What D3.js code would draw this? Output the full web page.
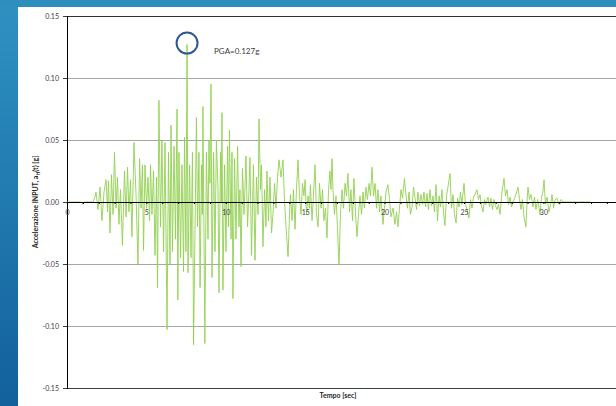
<!DOCTYPE html>
<html><head><meta charset="utf-8">
<script src="https://cdn.jsdelivr.net/npm/d3@7"></script>
<style>
html,body{margin:0;padding:0;background:#fff;}
svg{display:block;}
text{font-family:Lato,"Open Sans","Liberation Sans",sans-serif;}
</style></head>
<body>
<svg id="c" width="616" height="406"></svg>
<script>
// ---- data (time in s, acceleration in g) ----
const times = [0,0.9,1.0,1.1,1.5,1.64,1.76,1.83,1.95,2.08,2.20,2.33,2.46,2.55,2.61,2.71,2.80,2.90,2.99,3.09,3.18,3.27,3.37,3.49,3.62,3.72,3.81,3.90,4.00,4.09,4.22,4.35,4.47,4.57,4.66,4.75,4.82,4.91,5.01,5.10,5.20,5.26,5.35,5.45,5.54,5.64,5.70,5.79,5.89,5.98,6.08,6.17,6.30,6.39,6.49,6.55,6.64,6.74,6.83,6.93,6.98,7.05,7.15,7.24,7.34,7.40,7.49,7.56,7.62,7.72,7.81,7.90,7.97,8.15,8.22,8.31,8.38,8.47,8.52,8.56,8.68,8.78,8.88,8.94,9.00,9.07,9.13,9.23,9.32,9.41,9.51,9.57,9.67,9.72,9.76,9.82,9.92,10.01,10.11,10.17,10.23,10.33,10.39,10.45,10.55,10.64,10.74,10.83,10.89,10.96,11.05,11.15,11.27,11.37,11.46,11.52,11.62,11.74,11.84,11.93,12.03,12.09,12.19,12.25,12.34,12.44,12.53,12.59,12.69,12.78,12.88,12.97,13.07,13.16,13.26,13.35,13.48,13.60,13.70,13.79,13.92,14.01,14.07,14.17,14.26,14.36,14.45,14.55,14.64,14.74,14.83,14.92,14.99,15.08,15.18,15.27,15.33,15.43,15.52,15.62,15.71,15.81,15.90,16.00,16.09,16.18,16.28,16.37,16.47,16.56,16.62,16.69,16.75,16.84,16.94,17.03,17.13,17.22,17.32,17.41,17.51,17.60,17.69,17.79,17.88,17.98,18.07,18.17,18.26,18.36,18.45,18.55,18.64,18.73,18.83,18.92,19.02,19.11,19.21,19.30,19.40,19.49,19.58,19.68,19.77,19.90,19.99,20.09,20.21,20.31,20.40,20.53,20.65,20.75,20.84,20.94,21.03,21.13,21.25,21.35,21.44,21.54,21.63,21.73,21.82,21.91,22.01,22.10,22.20,22.29,22.39,22.48,22.58,22.67,22.76,22.86,22.95,23.05,23.14,23.24,23.33,23.43,23.52,23.61,23.71,23.80,23.90,23.99,24.12,24.21,24.31,24.40,24.50,24.59,24.69,24.78,24.87,25.00,25.09,25.19,25.31,25.41,25.50,25.60,25.69,25.82,25.91,26.01,26.10,26.20,26.29,26.38,26.51,26.61,26.70,26.79,26.89,26.98,27.08,27.17,27.27,27.39,27.52,27.61,27.71,27.80,27.90,27.99,28.09,28.18,28.27,28.40,28.50,28.59,28.68,28.78,28.90,28.97,29.03,29.12,29.22,29.34,29.44,29.53,29.63,29.72,29.79,29.88,29.97,30.04,30.13,30.23,30.35,30.45,30.54,30.64,30.73,30.86,30.98,31.11,31.23,32.93];
const accel = [0,0,-0.002,0,0,0,0.004,0.008,-0.006,0.012,-0.015,0.008,0.018,-0.008,0.017,-0.025,0.022,-0.010,0.040,-0.005,0.020,-0.018,0.010,-0.035,0.025,-0.012,0.028,-0.008,0.018,-0.028,0.048,0.005,-0.050,0.035,-0.005,0.030,-0.039,0.030,-0.005,0.020,-0.015,0.030,-0.010,0.025,-0.043,0.020,-0.069,0.082,-0.020,0.050,-0.040,0.048,-0.103,0.040,-0.050,0.062,-0.040,0.045,-0.030,0.075,-0.079,0.040,-0.045,0.030,-0.056,0.052,-0.040,0.127,-0.057,0.030,-0.045,0.040,-0.115,0.068,-0.020,0.040,-0.069,0.030,-0.010,0.077,-0.114,0.040,-0.030,0.050,0.015,0.095,-0.061,0.040,-0.040,0.050,0.010,-0.073,0.040,0.000,0.072,-0.071,0.030,-0.040,0.045,-0.020,0.058,-0.030,0.040,-0.078,0.035,-0.030,0.045,-0.020,0.010,-0.052,0.027,-0.010,0.037,-0.020,0.010,0.036,-0.043,0.030,-0.047,0.020,-0.010,0.067,0.010,0.030,-0.036,0.010,-0.020,0.025,-0.015,0.020,-0.025,-0.010,0.015,-0.005,0.020,0.034,0.020,0.034,0.000,-0.020,-0.044,-0.010,0.006,-0.015,0.010,-0.022,0.010,0.034,0.005,-0.010,0.015,0.005,0.018,-0.010,0.005,-0.005,0.014,-0.015,0.005,0.030,-0.010,-0.020,0.015,-0.005,0.010,-0.015,-0.005,-0.029,0.010,0.025,0.010,0.035,0.010,-0.010,0.005,-0.020,-0.051,-0.010,0.010,-0.005,0.015,0.005,0.023,-0.008,0.010,-0.015,0.019,-0.010,-0.028,-0.010,0.005,-0.010,0.008,-0.005,0.012,0.002,0.015,0.005,0.028,0.005,0.015,-0.005,0.010,-0.008,0.005,-0.018,-0.005,0.008,0.014,0.002,-0.012,-0.005,-0.018,-0.008,-0.020,-0.005,0.010,0.003,0.019,0.005,-0.005,0.008,-0.010,-0.004,0.012,0.004,-0.006,0.008,-0.003,0.006,-0.002,0.008,-0.004,0.007,-0.006,0.010,-0.003,0.005,-0.008,0.014,-0.015,0.005,-0.004,0.010,-0.008,-0.019,0.005,0.012,0.023,-0.005,0.006,-0.010,-0.017,0.003,-0.004,0.008,-0.002,0.015,-0.002,-0.006,-0.013,0.002,-0.005,0.004,0.006,0.010,0.002,0.006,-0.003,-0.008,0.002,-0.002,0.004,-0.004,0.003,-0.006,0.002,-0.003,-0.006,-0.002,-0.010,0.008,0.019,0.005,0.010,-0.002,0.004,-0.004,0.000,0.003,0.006,0.012,0.002,-0.006,0.002,-0.012,-0.020,0.000,0.012,0.002,0.006,-0.004,0.004,-0.006,0.002,-0.004,-0.010,0.004,0.008,0.018,-0.002,0.004,-0.008,-0.002,0.006,-0.005,0.002,0.003,-0.002,0.002,0.000,0.000];
const yTicks = [-0.15,-0.10,-0.05,0.00,0.05,0.10,0.15];
const yTickLabels = ["-0.15","-0.10","-0.05","0.00","0.05","0.10","0.15"];
const xLabelTicks = [0,5,10,15,20,25,30];
const pgaTime = 7.56, pgaValue = 0.127;
const pgaLabel = "PGA=0.127g";

// ---- drawing ----
const svg = d3.select("#c");
const defs = svg.append("defs");
const lg = defs.append("linearGradient").attr("id","bg").attr("x1",0).attr("y1",0).attr("x2",0).attr("y2",1);
lg.append("stop").attr("offset","0%").attr("stop-color","#2f92c2");
lg.append("stop").attr("offset","100%").attr("stop-color","#12609c");
svg.append("rect").attr("width",616).attr("height",406).attr("fill","url(#bg)");
svg.append("rect").attr("x",0).attr("y",0).attr("width",616).attr("height",7).attr("fill","#2e8fbf");
svg.append("rect").attr("x",18).attr("y",7).attr("width",598).attr("height",399).attr("fill","#ffffff");

const x = d3.scaleLinear().domain([0,35]).range([67,67+35*15.88]);
const y = d3.scaleLinear().domain([-0.15,0.15]).range([388,16]);

// gridlines
svg.append("g").selectAll("line").data(yTicks.filter(v=>v!==0 && Math.abs(v)<0.14)).join("line")
  .attr("x1",x(0)).attr("x2",616).attr("y1",d=>y(d)).attr("y2",d=>y(d))
  .attr("stroke","#a6a6a6").attr("stroke-width",1).attr("shape-rendering","crispEdges");
// top & bottom frame lines
svg.append("line").attr("x1",x(0)-4).attr("x2",616).attr("y1",y(0.15)).attr("y2",y(0.15))
  .attr("stroke","#303030").attr("stroke-width",1).attr("shape-rendering","crispEdges");
svg.append("line").attr("x1",x(0)-4).attr("x2",616).attr("y1",y(-0.15)).attr("y2",y(-0.15))
  .attr("stroke","#404040").attr("stroke-width",1).attr("shape-rendering","crispEdges");

// y axis
const yAxis = d3.axisLeft(y).tickValues(yTicks).tickSize(4).tickPadding(4)
  .tickFormat((d,i)=>yTickLabels[i]);
const gy = svg.append("g").attr("transform",`translate(${x(0)},0)`).call(yAxis);
gy.select(".domain").attr("stroke","#000").attr("shape-rendering","crispEdges");
gy.selectAll(".tick line").attr("stroke","#404040").attr("shape-rendering","crispEdges");
gy.selectAll("text").attr("font-size",7).attr("fill","#404040").attr("font-family","Lato, 'Open Sans', sans-serif");

// signal line
const line = d3.line().x((d,i)=>x(times[i])).y((d,i)=>y(accel[i]));
svg.append("path").datum(accel).attr("d",line).attr("fill","none")
  .attr("stroke","#92d050").attr("stroke-width",0.9).attr("stroke-linejoin","round");

// x axis at zero
const xAxis = d3.axisBottom(x).tickValues(d3.range(0,35,1)).tickSize(2).tickPadding(6)
  .tickFormat(d=> xLabelTicks.includes(d) ? String(d) : "");
const gx = svg.append("g").attr("transform",`translate(0,${y(0)})`).call(xAxis);
gx.select(".domain").attr("stroke","#000").attr("stroke-width",1.2);
gx.selectAll(".tick line").attr("stroke","#000");
gx.selectAll("text").attr("font-size",7).attr("fill","#404040").attr("font-family","Lato, 'Open Sans', sans-serif");

// PGA marker
svg.append("circle").attr("cx",x(pgaTime)).attr("cy",y(pgaValue)-1.5).attr("r",10.5)
  .attr("fill","none").attr("stroke","#2f5597").attr("stroke-width",2);
svg.append("text").attr("x",x(pgaTime)+27).attr("y",y(pgaValue)+9).text(pgaLabel)
  .attr("font-size",8).attr("fill","#404040");

// axis titles
const yt = svg.append("text").attr("transform",`translate(38,${y(0)}) rotate(-90)`)
  .attr("text-anchor","middle").attr("font-size",7).attr("font-weight","bold").attr("fill","#262626");
yt.append("tspan").text("Accelerazione  INPUT, a");
yt.append("tspan").attr("font-size",5).attr("dy",1.5).text("H");
yt.append("tspan").attr("dy",-1.5).text("(t) [g]");
svg.append("text").attr("x",338).attr("y",398).attr("text-anchor","middle")
  .attr("font-size",7).attr("font-weight","bold").attr("fill","#262626").text("Tempo [sec]");
</script>
</body></html>
